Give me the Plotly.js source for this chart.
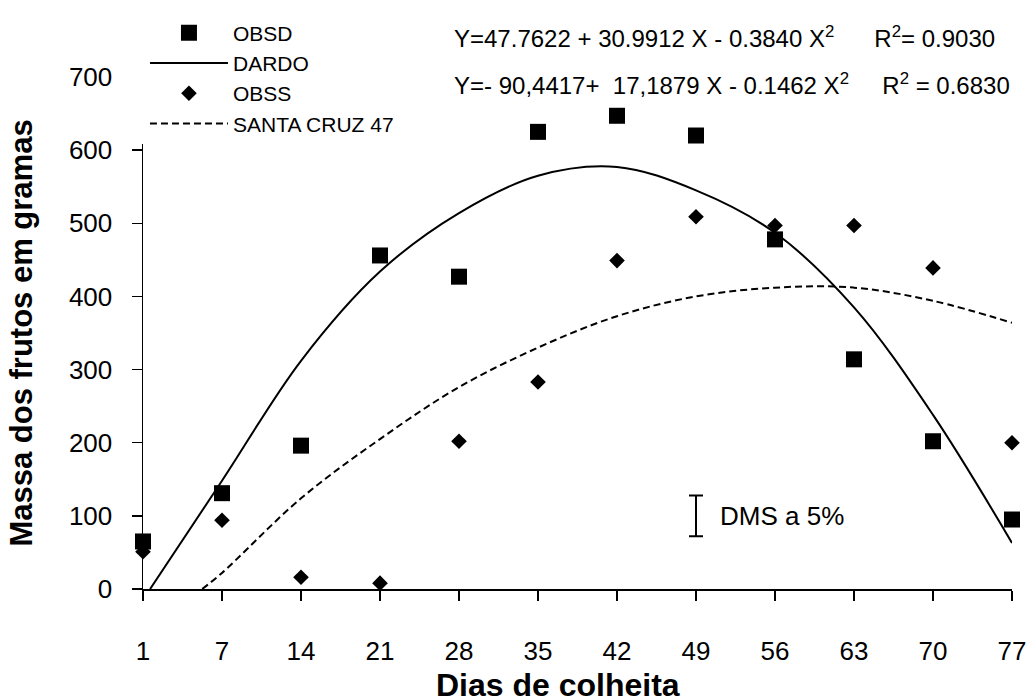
<!DOCTYPE html>
<html>
<head>
<meta charset="utf-8">
<script src="https://cdn.plot.ly/plotly-3.0.1.min.js"></script>
<style>
  html, body { margin: 0; padding: 0; background: #fff; }
  #chart { width: 1032px; height: 698px; }
</style>
</head>
<body>
<div id="chart"></div>
<script>
// Harvest days (evenly spaced categories on the x axis)
const days = ['1', '7', '14', '21', '28', '35', '42', '49', '56', '63', '70', '77'];

// Observed fruit mass (g) per harvest day
const obsDardo = [65, 131, 196, 456, 427, 625, 647, 620, 478, 314, 202, 95];
const obsSantaCruz = [51, 94, 16, 8, 202, 283, 449, 509, 497, 497, 439, 200];

// Fitted curves, sampled along the category axis (position in category units)
const dardoPos = [0.09, 1, 2, 3, 4, 5, 6, 7, 8, 9, 10, 11];
const dardoFit = [0, 148, 312, 434, 514, 565, 577, 545, 487, 385, 238, 63];
const santaPos = [0.75, 1, 2, 3, 4, 5, 6, 7, 8, 9, 10, 11];
const santaFit = [0, 22, 124, 205, 276, 330, 373, 400, 412, 412, 394, 364];

// Least significant difference (5%) bar
const dmsPos = 7;
const dmsCenter = 100;
const dmsValue = 56;

const catIndex = days.map((d, i) => i);
const FONT = 'Liberation Sans, Arial, sans-serif';

const traces = [
  {
    name: 'OBSD', x: catIndex, y: obsDardo, type: 'scatter', mode: 'markers',
    marker: { symbol: 'square', size: 16, color: '#000' },
    legendgroup: 'a', cliponaxis: false
  },
  {
    name: 'DARDO', x: dardoPos, y: dardoFit, type: 'scatter', mode: 'lines',
    line: { color: '#000', width: 2, shape: 'spline', smoothing: 1 },
    legendgroup: 'b'
  },
  {
    name: 'OBSS', x: catIndex, y: obsSantaCruz, type: 'scatter', mode: 'markers',
    marker: { symbol: 'diamond', size: 12, color: '#000' },
    legendgroup: 'c', cliponaxis: false
  },
  {
    name: 'SANTA CRUZ 47', x: santaPos, y: santaFit, type: 'scatter', mode: 'lines',
    line: { color: '#000', width: 2, dash: '7px,4px', shape: 'spline', smoothing: 1 },
    legendgroup: 'd'
  },
  {
    x: [dmsPos], y: [dmsCenter], type: 'scatter', mode: 'markers',
    marker: { size: 1, color: 'rgba(0,0,0,0)' },
    error_y: { type: 'data', array: [dmsValue / 2], color: '#000', thickness: 2, width: 7 },
    showlegend: false, hoverinfo: 'skip'
  }
];

const layout = {
  width: 1032, height: 698,
  margin: { l: 143, r: 20, t: 66, b: 109 },
  paper_bgcolor: '#fff', plot_bgcolor: '#fff',
  font: { family: FONT, color: '#000', size: 20 },
  showlegend: true,
  legend: {
    x: -0.0173, xanchor: 'left', y: 1.126, yanchor: 'top',
    bgcolor: '#fff', borderwidth: 0, indentation: 17,
    font: { family: FONT, size: 21, color: '#000' },
    traceorder: 'grouped', tracegroupgap: 0, itemwidth: 78
  },
  xaxis: {
    range: [0, 11], tickmode: 'array', tickvals: catIndex, ticktext: days,
    showgrid: false, zeroline: false, showline: true, linecolor: '#000', linewidth: 1.5,
    ticks: 'outside', ticklen: 10, tickwidth: 1.5, tickcolor: '#000',
    ticklabelstandoff: 28,
    tickfont: { family: FONT, size: 26, color: '#000' }
  },
  yaxis: {
    range: [0, 700], tickmode: 'linear', tick0: 0, dtick: 100,
    showgrid: false, zeroline: false, showline: true, linecolor: '#000', linewidth: 1.5,
    ticks: 'outside', ticklen: 10, tickwidth: 1.5, tickcolor: '#000',
    ticklabelstandoff: 14,
    tickfont: { family: FONT, size: 26, color: '#000' },
    title: { text: '<b>Massa dos frutos em gramas</b>', font: { family: FONT, size: 31, color: '#000' }, standoff: 27 }
  },
  annotations: [
    {
      // x axis title
      xref: 'paper', yref: 'paper', x: 0.4776, y: -0.187, xanchor: 'center', yanchor: 'middle',
      text: '<b>Dias de colheita</b>', showarrow: false,
      font: { family: FONT, size: 32, color: '#000' }
    },
    {
      xref: 'paper', yref: 'paper', x: 0.3556, y: 1.0785, xanchor: 'left', yanchor: 'middle',
      text: 'Y=47.7622 + 30.9912 X - 0.3840 X<sup>2</sup>      R<sup>2</sup>= 0.9030',
      showarrow: false, font: { family: FONT, size: 24, color: '#000' }
    },
    {
      xref: 'paper', yref: 'paper', x: 0.3556, y: 0.9866, xanchor: 'left', yanchor: 'middle',
      text: 'Y=- 90,4417+  17,1879 X - 0.1462 X<sup>2</sup>     R<sup>2</sup> = 0.6830',
      showarrow: false, font: { family: FONT, size: 24, color: '#000' }
    },
    {
      xref: 'x', yref: 'y', x: dmsPos, y: dmsCenter, xanchor: 'left', yanchor: 'middle',
      xshift: 22, text: 'DMS a 5%', showarrow: false,
      font: { family: FONT, size: 26, color: '#000' }
    }
  ]
};

Plotly.newPlot('chart', traces, layout, { displayModeBar: false, staticPlot: true });
</script>
</body>
</html>
